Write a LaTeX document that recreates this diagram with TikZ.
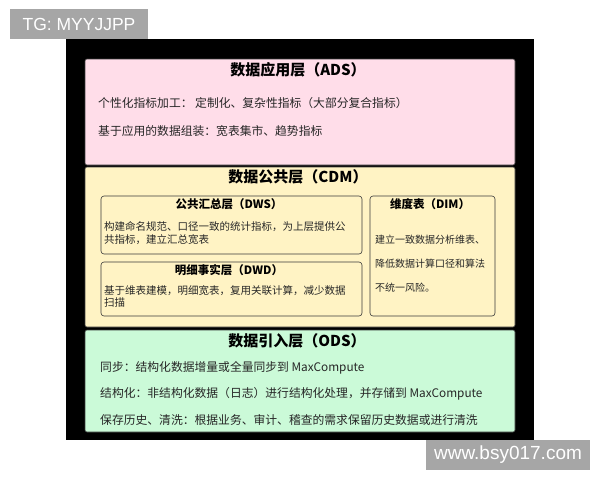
\documentclass[tikz,border=0pt]{standalone}
\usepackage{fontspec}
\setmainfont{Noto Sans CJK SC}
\newfontfamily\wmfont{Liberation Sans}
\definecolor{pinkfill}{HTML}{FFDDE9}
\definecolor{yellowfill}{HTML}{FFF3C4}
\definecolor{greenfill}{HTML}{CBFAD8}
\definecolor{wmgray}{HTML}{A6A6A6}
\definecolor{edgecol}{HTML}{3A3A3A}
\tikzset{
  layerbox/.style={draw=edgecol, line width=0.6pt, rounded corners=2pt, inner sep=0pt, rectangle},
  subbox/.style={draw=edgecol, line width=0.6pt, rounded corners=3pt, fill=yellowfill, inner sep=0pt, rectangle},
  bigtitle/.style={font=\fontsize{15}{17}\selectfont\bfseries, inner sep=0pt},
  smalltitle/.style={font=\fontsize{11.5}{13}\selectfont\bfseries, inner sep=0pt},
  bodytext/.style={font=\fontsize{11.8}{14}\selectfont, anchor=west, inner sep=0pt, text=black!85},
  boxtext/.style={font=\fontsize{10.5}{12.5}\selectfont, anchor=west, inner sep=0pt, align=left, text=black!85},
  wmbox/.style={fill=wmgray, inner sep=0pt, rectangle, text=white},
}
\begin{document}
\begin{tikzpicture}[x=1pt,y=-1pt]
\useasboundingbox (0,0) rectangle (600,480);
\fill[white] (0,0) rectangle (600,480);
% black panel
\node[fill=black, inner sep=0pt, minimum width=468pt, minimum height=401pt] (panel) at (300,239.5) {};
% layers
\node[layerbox, fill=pinkfill, minimum width=430pt, minimum height=106pt] (ads) at (300,112) {};
\node[layerbox, fill=yellowfill, minimum width=430pt, minimum height=160pt] (cdm) at (300,247) {};
\node[layerbox, fill=greenfill, minimum width=430pt, minimum height=102pt] (ods) at (300,381) {};
% ADS
\node[bigtitle] (adst) at (298,70) {数据应用层（ADS）};
\node[bodytext] (ads1) at (98,103) {个性化指标加工： 定制化、复杂性指标（大部分复合指标）};
\node[bodytext] (ads2) at (98,131) {基于应用的数据组装：宽表集市、趋势指标};
% CDM
\node[bigtitle] (cdmt) at (298,177) {数据公共层（CDM）};
\node[subbox, minimum width=261pt, minimum height=58pt] (dws) at (231.5,225) {};
\node[subbox, minimum width=261pt, minimum height=54pt] (dwd) at (231.5,289) {};
\node[subbox, minimum width=125pt, minimum height=120pt] (dim) at (432.5,256) {};
\node[smalltitle] (dwst) at (229,204) {公共汇总层（DWS）};
\node[boxtext] (dwsb) at (104,233) {构建命名规范、口径一致的统计指标，为上层提供公\\共指标，建立汇总宽表};
\node[smalltitle] (dwdt) at (229,270) {明细事实层（DWD）};
\node[boxtext] (dwdb) at (104,296.5) {基于维表建模，明细宽表，复用关联计算，减少数据\\扫描};
\node[smalltitle] (dimt) at (430,204) {维度表（DIM）};
\node[boxtext, font=\fontsize{10}{12}\selectfont] (dim1) at (375,240) {建立一致数据分析维表、};
\node[boxtext, font=\fontsize{10}{12}\selectfont] (dim2) at (375,264) {降低数据计算口径和算法};
\node[boxtext, font=\fontsize{10}{12}\selectfont] (dim3) at (375,288) {不统一风险。};
% ODS
\node[bigtitle] (odst) at (297,341) {数据引入层（ODS）};
\node[bodytext] (ods1) at (100,368) {同步：结构化数据增量或全量同步到 MaxCompute};
\node[bodytext] (ods2) at (100,394) {结构化：非结构化数据（日志）进行结构化处理，并存储到 MaxCompute};
\node[bodytext] (ods3) at (100,420) {保存历史、清洗：根据业务、审计、稽查的需求保留历史数据或进行清洗};
% watermarks
\node[wmbox, minimum width=138pt, minimum height=30pt, font=\wmfont\fontsize{17.5}{20}\selectfont] (wm1) at (79,24) {TG: MYYJJPP};
\node[wmbox, minimum width=164pt, minimum height=30pt, font=\wmfont\fontsize{19}{22}\selectfont] (wm2) at (508,455) {www.bsy017.com};
\end{tikzpicture}
\end{document}
